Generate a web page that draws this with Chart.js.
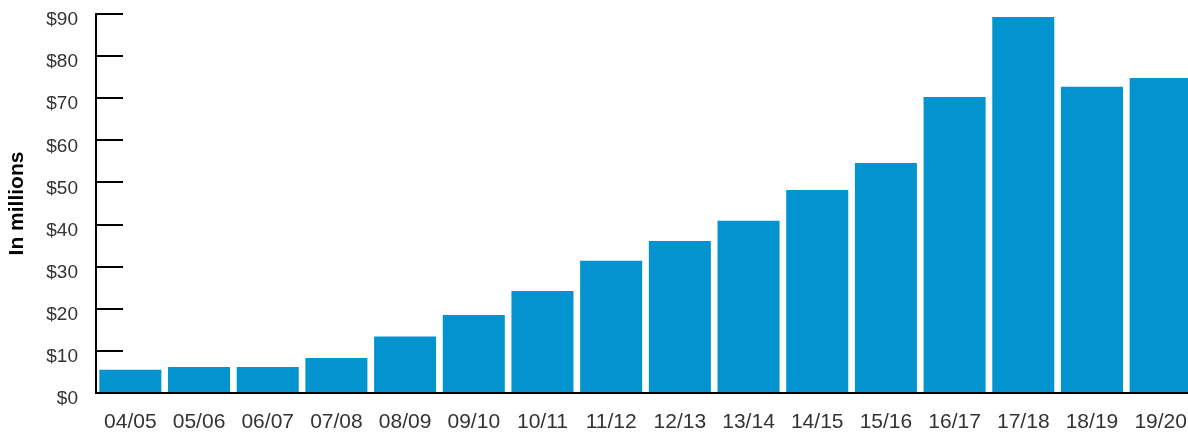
<!DOCTYPE html>
<html>
<head>
<meta charset="utf-8">
<script src="https://cdn.jsdelivr.net/npm/chart.js@4/dist/chart.umd.min.js"></script>
<style>
html, body { margin: 0; padding: 0; overflow: hidden; background: #fff; width: 1188px; height: 434px; }
#wrap { position: relative; width: 1195px; height: 434px; }
</style>
</head>
<body>
<div id="wrap"><canvas id="c"></canvas></div>
<script>
const categories = ['04/05','05/06','06/07','07/08','08/09','09/10','10/11','11/12','12/13','13/14','14/15','15/16','16/17','17/18','18/19','19/20'];
const values = [5.5, 6.2, 6.2, 8.3, 13.4, 18.5, 24.2, 31.4, 36.1, 40.9, 48.2, 54.6, 70.3, 89.3, 72.7, 74.8];
const yTickValues = [0, 10, 20, 30, 40, 50, 60, 70, 80, 90];
const yTitle = 'In millions';

const textColor = '#333333';
const barColor = 'rgb(3,148,208)';

function zeroPad(s) { s.paddingTop = 0; s.paddingBottom = 0; s.paddingLeft = 0; s.paddingRight = 0; }

new Chart(document.getElementById('c'), {
  type: 'bar',
  data: {
    labels: categories,
    datasets: [{
      data: values,
      backgroundColor: barColor,
      borderWidth: 0,
      barPercentage: 0.903,
      categoryPercentage: 1.0
    }]
  },
  options: {
    responsive: true,
    maintainAspectRatio: false,
    animation: false,
    layout: { padding: { top: 14, left: 0, right: 0, bottom: 0 }, autoPadding: false },
    plugins: { legend: { display: false }, tooltip: { enabled: false } },
    scales: {
      x: {
        grid: { display: true, drawOnChartArea: false, drawTicks: false, color: 'rgba(0,0,0,0)' },
        border: { display: true, color: '#000', width: 2 },
        ticks: {
          color: textColor,
          font: { family: 'Liberation Sans, Arial, sans-serif', size: 21 },
          padding: 17,
          maxRotation: 0,
          autoSkip: false
        },
        afterFit: (s) => { s.height = 41; zeroPad(s); }
      },
      y: {
        min: 0,
        max: 90,
        afterBuildTicks: (s) => { s.ticks = yTickValues.map(v => ({ value: v })); },
        grid: { drawOnChartArea: false, drawTicks: true, tickLength: -27, color: '#000', lineWidth: 2 },
        border: { display: true, color: '#000', width: 2 },
        ticks: {
          color: textColor,
          font: { family: 'Liberation Sans, Arial, sans-serif', size: 19 },
          padding: 45,
          labelOffset: 6,
          callback: (v) => '$' + v
        },
        title: {
          display: true,
          text: yTitle,
          color: '#000',
          font: { family: 'Liberation Sans, Arial, sans-serif', size: 21, weight: 'bold' },
          padding: { top: 5, bottom: 0 }
        },
        afterFit: (s) => { s.width = 96; zeroPad(s); }
      }
    }
  }
});
</script>
</body>
</html>
